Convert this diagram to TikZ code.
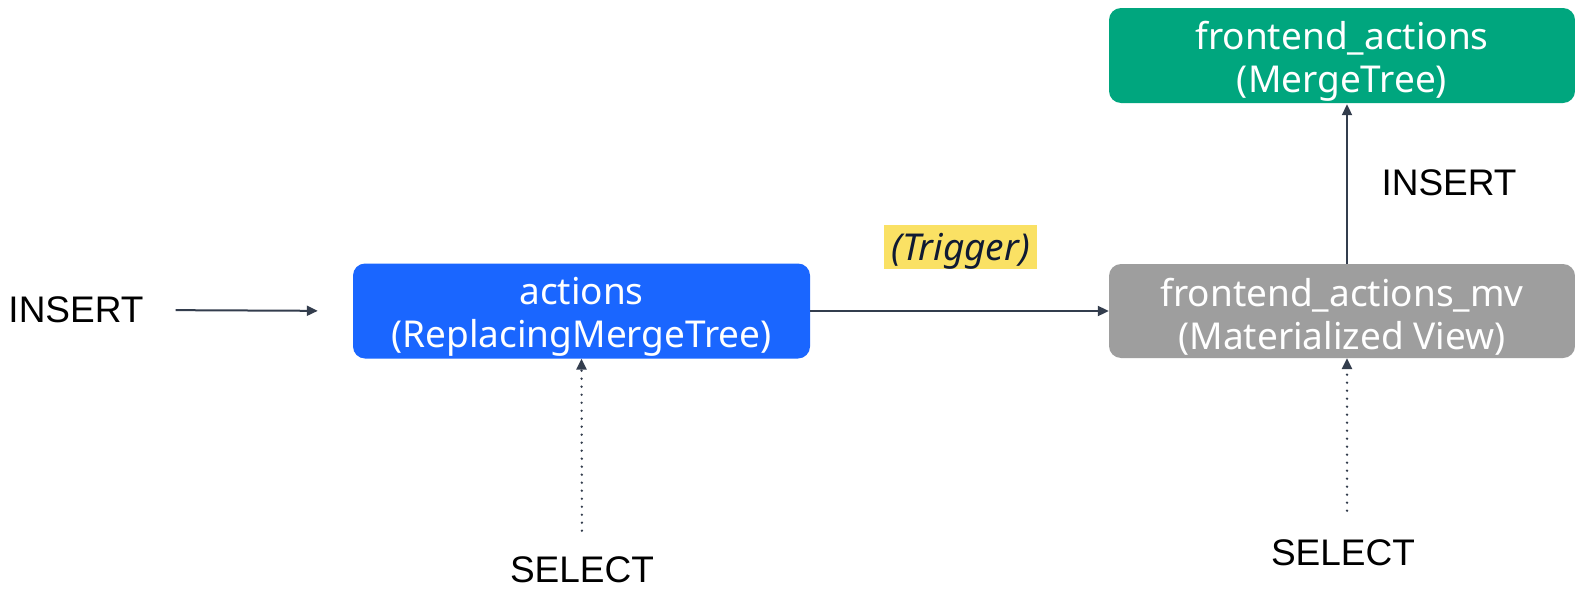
\documentclass[tikz,border=0pt]{standalone}
\usepackage{fontspec}
\setmainfont{Noto Sans}
\newfontfamily\labelfont{Liberation Sans}
\usetikzlibrary{arrows.meta}
\definecolor{boxblue}{HTML}{1A66FF}
\definecolor{boxgreen}{HTML}{00A67E}
\definecolor{boxgray}{HTML}{9E9E9E}
\definecolor{linkcol}{HTML}{333D4D}
\definecolor{hilite}{HTML}{FAE164}
\definecolor{trigtext}{HTML}{0F1A33}
\tikzset{
  tablebox/.style={rounded corners=12pt, inner sep=0pt},
  boxtext/.style={text=white, align=center, font=\fontsize{37}{43}\selectfont,
    inner sep=0pt, yshift=-5.5pt},
  plainlabel/.style={font=\labelfont\fontsize{37}{40}\selectfont, inner sep=0pt, text=black},
  link/.style={draw=linkcol, line width=2pt, -{Triangle[length=11pt,width=10pt]}},
  dotlink/.style={draw=linkcol, line width=2.6pt, line cap=round,
    dash pattern=on 0pt off 8pt, -{Triangle[length=11pt,width=10pt]}},
}
\begin{document}
\begin{tikzpicture}[x=1pt,y=-1pt]
\useasboundingbox[fill=white] (0,0) rectangle (1575,589);

\node[tablebox, fill=boxblue, minimum width=457pt, minimum height=95pt,
  label={[boxtext]center:{actions\\(ReplacingMergeTree)}}] (actions) at (581.5,311) {};
\node[tablebox, fill=boxgray, minimum width=466pt, minimum height=94pt,
  label={[boxtext]center:{frontend\_actions\_mv\\(Materialized View)}}] (mv) at (1342,311) {};
\node[tablebox, fill=boxgreen, minimum width=466pt, minimum height=95pt,
  label={[boxtext]center:{frontend\_actions\\(MergeTree)}}] (fa) at (1342,55.5) {};

\node[plainlabel] (insL) at (76,310) {INSERT};
\node[plainlabel] (insR) at (1449,183) {INSERT};
\node[plainlabel] (selL) at (582,570) {SELECT};
\node[plainlabel] (selR) at (1343,553) {SELECT};

\node[fill=hilite, inner sep=0pt, minimum width=153pt, minimum height=44pt,
  label={[text=trigtext, inner sep=0pt, yshift=-4pt,
    font=\fontsize{37}{40}\selectfont\itshape]center:(Trigger)}] (trig) at (960.5,247) {};

\draw[link, shorten <=32pt, shorten >=35pt] (insL.east) -- (actions.west);
\draw[link] (actions.east) -- (mv.west);
\draw[link, shorten >=1pt] ([xshift=5pt]mv.north) -- ([xshift=5pt]fa.south);
\draw[dotlink, shorten <=26pt] (selL.north) -- (actions.south);
\draw[dotlink, shorten <=29pt] ([xshift=4pt]selR.north) -- ([xshift=5pt]mv.south);
\end{tikzpicture}
\end{document}
